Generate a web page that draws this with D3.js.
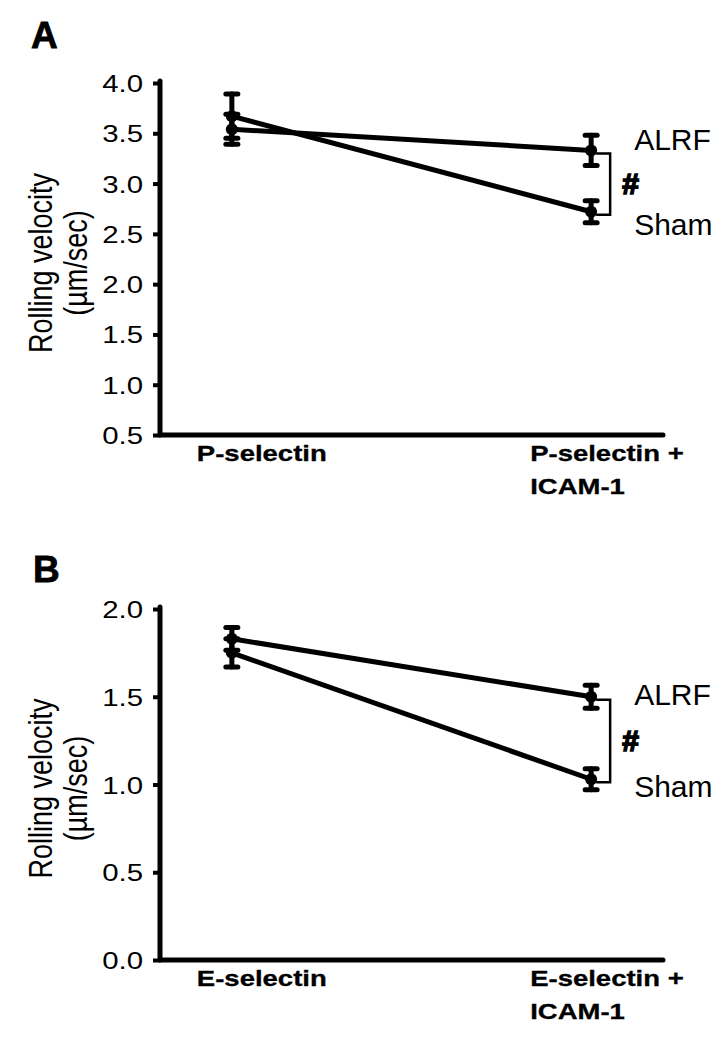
<!DOCTYPE html>
<html>
<head>
<meta charset="utf-8">
<script src="https://cdn.jsdelivr.net/npm/d3@7"></script>
<style>
  html, body { margin: 0; padding: 0; background: #fff; }
  svg { display: block; }
  text { font-family: "Liberation Sans", Arial, sans-serif; fill: #000; }
</style>
</head>
<body>
<svg id="chart" width="728" height="1050"></svg>
<script>
// ---------- DATA ----------
const categoriesA = ["P-selectin", "P-selectin +\nICAM-1"];
const alrfA = [3.54, 3.33];
const alrfErrA = [0.15, 0.15];
const shamA = [3.67, 2.72];
const shamErrA = [0.22, 0.11];
const ticksA = [0.5, 1.0, 1.5, 2.0, 2.5, 3.0, 3.5, 4.0];

const categoriesB = ["E-selectin", "E-selectin +\nICAM-1"];
const alrfB = [1.83, 1.50];
const alrfErrB = [0.065, 0.065];
const shamB = [1.75, 1.03];
const shamErrB = [0.08, 0.06];
const ticksB = [0.0, 0.5, 1.0, 1.5, 2.0];

const seriesNames = ["ALRF", "Sham"];
const yTitle = ["Rolling velocity", "(\u00b5m/sec)"];

// ---------- DRAW ----------
const svg = d3.select("#chart");
const SX = 1.25;           // horizontal stretch of the original figure text
const fmt = d3.format(".1f");

function panel(opts) {
  const g = svg.append("g");
  const x0 = 160, x1 = 663;
  const x = d3.scalePoint().domain(opts.categories).range([x0, x1]).padding(0.2);
  const y = d3.scaleLinear().domain(opts.domain).range([opts.bottom, opts.top]);

  // panel letter
  g.append("text").attr("x", opts.letterX).attr("y", opts.letterY)
    .attr("font-size", 37).attr("font-weight", "bold")
    .attr("stroke", "#000").attr("stroke-width", 0.8).text(opts.letter);

  // y axis
  const yAxis = d3.axisLeft(y).tickValues(opts.ticks).tickFormat(fmt).tickSize(7).tickSizeOuter(0);
  const ax = g.append("g").attr("transform", `translate(${x0},0)`).call(yAxis);
  ax.select(".domain").remove();
  ax.selectAll(".tick line").attr("stroke", "#000").attr("stroke-width", 4);
  ax.selectAll(".tick text")
    .attr("x", 0).attr("dy", null)
    .attr("font-size", 23.5).attr("font-family", "Liberation Sans, Arial, sans-serif")
    .attr("text-anchor", "end").attr("fill", "#000")
    .attr("transform", `translate(-17,8.5) scale(${SX},1)`);
  g.append("line").attr("x1", x0).attr("x2", x0)
    .attr("y1", y(opts.domain[1]) - 2).attr("y2", y(opts.domain[0]))
    .attr("stroke", "#000").attr("stroke-width", 5).attr("stroke-linecap", "round");
  // x axis
  g.append("line").attr("x1", x0).attr("x2", x1)
    .attr("y1", y(opts.domain[0])).attr("y2", y(opts.domain[0]))
    .attr("stroke", "#000").attr("stroke-width", 5).attr("stroke-linecap", "round");

  // y title
  const midY = (y(opts.domain[0]) + y(opts.domain[1])) / 2 + 4;
  [52, 87].forEach((bx, i) => {
    g.append("text")
      .attr("transform", `translate(${bx},${midY}) scale(1.2,1) rotate(-90)`)
      .attr("text-anchor", "middle").attr("font-size", 27).text(yTitle[i]);
  });

  // category labels
  const labelOff = [-35, -61];
  opts.categories.forEach((c, i) => {
    const lines = c.split("\n");
    lines.forEach((ln, j) => {
      g.append("text")
        .attr("transform", `translate(${x(c) + labelOff[i]},${y(opts.domain[0]) + 26 + j * 33}) scale(${SX},1)`)
        .attr("font-size", 22).attr("font-weight", "bold")
        .attr("stroke", "#000").attr("stroke-width", 0.3).text(ln);
    });
  });

  // series
  const series = [
    { name: seriesNames[0], v: opts.alrf, e: opts.alrfErr },
    { name: seriesNames[1], v: opts.sham, e: opts.shamErr }
  ];
  const line = d3.line().x((d, i) => x(opts.categories[i])).y(d => y(d));
  series.forEach(s => {
    g.append("path").datum(s.v).attr("d", line)
      .attr("fill", "none").attr("stroke", "#000").attr("stroke-width", 5);
  });
  series.forEach(s => {
    s.v.forEach((v, i) => {
      const cx = x(opts.categories[i]);
      const eb = g.append("g").attr("stroke", "#000").attr("stroke-linecap", "round");
      eb.append("line").attr("x1", cx).attr("x2", cx)
        .attr("y1", y(v + s.e[i])).attr("y2", y(v - s.e[i])).attr("stroke-width", 5);
      [v + s.e[i], v - s.e[i]].forEach(t => {
        eb.append("line").attr("x1", cx - 6).attr("x2", cx + 6)
          .attr("y1", y(t)).attr("y2", y(t)).attr("stroke-width", 5);
      });
    });
  });
  series.forEach(s => {
    g.selectAll(null).data(s.v).enter().append("circle")
      .attr("cx", (d, i) => x(opts.categories[i])).attr("cy", d => y(d))
      .attr("r", 6).attr("fill", "#000");
  });

  // significance bracket and series labels at last category
  const lastC = opts.categories[1];
  const lx = x(lastC);
  const ya = y(opts.alrf[1]) + 3, ys = y(opts.sham[1]) + 3;
  g.append("path")
    .attr("d", `M${lx + 5},${ya} H${lx + 19} V${ys} H${lx + 5}`)
    .attr("fill", "none").attr("stroke", "#000").attr("stroke-width", 2.5);
  g.append("text").attr("x", lx + 31).attr("y", (ya + ys) / 2 + 10)
    .attr("font-size", 30).attr("font-weight", "bold")
    .attr("stroke", "#000").attr("stroke-width", 1.6).text("#");
  g.append("text").attr("x", lx + 43).attr("y", y(opts.alrf[1]) + opts.alrfLabDy)
    .attr("font-size", 30).text(seriesNames[0]);
  g.append("text").attr("x", lx + 43).attr("y", y(opts.sham[1]) + opts.shamLabDy)
    .attr("font-size", 30).text(seriesNames[1]);
}

panel({
  letter: "A", letterX: 31, letterY: 48,
  categories: categoriesA, domain: [0.5, 4.0], ticks: ticksA,
  top: 83, bottom: 435,
  alrf: alrfA, alrfErr: alrfErrA, sham: shamA, shamErr: shamErrA,
  alrfLabDy: 0, shamLabDy: 23
});
panel({
  letter: "B", letterX: 33, letterY: 582,
  categories: categoriesB, domain: [0.0, 2.0], ticks: ticksB,
  top: 609, bottom: 960,
  alrf: alrfB, alrfErr: alrfErrB, sham: shamB, shamErr: shamErrB,
  alrfLabDy: 8, shamLabDy: 18
});
</script>
</body>
</html>
